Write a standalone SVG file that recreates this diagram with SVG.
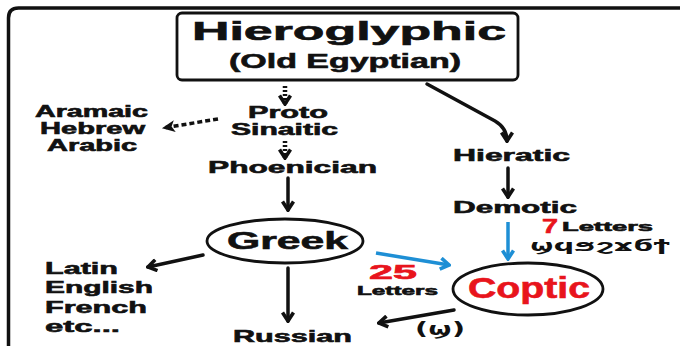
<svg xmlns="http://www.w3.org/2000/svg" width="680" height="346" viewBox="0 0 680 346">
<style>
  .t{font-family:"Liberation Sans",Arial,sans-serif;font-weight:bold;fill:#111;stroke:#111;stroke-width:0.6}
  .red{fill:#e8141c;stroke:#e8141c}
  .cop{font-family:"DejaVu Sans","Noto Sans",sans-serif;font-weight:bold;fill:#111}
  .ln{stroke:#111;stroke-width:3.5;fill:none;stroke-linecap:round}
  .blue{stroke:#1e8fd5;stroke-width:3.5;fill:none}
  .node{fill:#fff;stroke:#111;stroke-width:2.8}
</style>
<defs>
  <marker id="ah" viewBox="0 0 12 14" refX="10" refY="7" markerWidth="12" markerHeight="14" markerUnits="userSpaceOnUse" orient="auto">
    <path d="M1.5,1.5 L10,7 L1.5,12.5" fill="none" stroke="#111" stroke-width="3.6" stroke-linejoin="miter"/>
  </marker>
  <marker id="ahb" viewBox="0 0 12 14" refX="10" refY="7" markerWidth="12" markerHeight="14" markerUnits="userSpaceOnUse" orient="auto">
    <path d="M1.5,1.5 L10,7 L1.5,12.5" fill="none" stroke="#1e8fd5" stroke-width="3.6"/>
  </marker>
  <marker id="ahf" viewBox="0 0 12 12" refX="11" refY="6" markerWidth="13" markerHeight="13" markerUnits="userSpaceOnUse" orient="auto">
    <path d="M0,0.5 L12,6 L0,11.5 L3,6 Z" fill="#111"/>
  </marker>
</defs>
<rect width="680" height="346" fill="#fff"/>
<path d="M8.5,346 L8.5,18 Q8.5,8 18.5,8 L680,8" fill="none" stroke="#111" stroke-width="3.5"/>

<g id="connectors">
  <line x1="285" y1="86" x2="285" y2="104" stroke="#111" stroke-width="4.5" stroke-dasharray="2,2" marker-end="url(#ah)"/>
  <line x1="285" y1="141" x2="285" y2="158" stroke="#111" stroke-width="4.5" stroke-dasharray="2,2" marker-end="url(#ah)"/>
  <line x1="218" y1="119" x2="163" y2="128" stroke="#111" stroke-width="3.5" stroke-dasharray="5,3" marker-end="url(#ahf)"/>
  <line class="ln" x1="288" y1="178" x2="288" y2="210" marker-end="url(#ah)"/>
  <path class="ln" d="M427,84 L495,121 Q507,128 507,141" marker-end="url(#ah)"/>
  <line class="ln" x1="508" y1="168" x2="508" y2="197" marker-end="url(#ah)"/>
  <line class="blue" x1="508" y1="222" x2="508" y2="259" marker-end="url(#ahb)"/>
  <line class="blue" x1="376" y1="253" x2="449" y2="265" marker-end="url(#ahb)"/>
  <line class="ln" x1="203" y1="255" x2="148" y2="267" marker-end="url(#ah)"/>
  <line class="ln" x1="288" y1="268" x2="288" y2="321" marker-end="url(#ah)"/>
  <line class="ln" x1="454" y1="310" x2="379" y2="323" marker-end="url(#ah)"/>
</g>

<g id="hieroglyphic">
  <rect class="node" x="177" y="13" width="341" height="67" rx="5"/>
  <text class="t" x="192" y="40" font-size="26" textLength="314" lengthAdjust="spacingAndGlyphs">Hieroglyphic</text>
  <text class="t" x="229" y="68" font-size="20" textLength="232" lengthAdjust="spacingAndGlyphs">(Old Egyptian)</text>
</g>
<g id="semitic">
  <text class="t" x="35" y="117" font-size="16" textLength="113" lengthAdjust="spacingAndGlyphs">Aramaic</text>
  <text class="t" x="40" y="134" font-size="16" textLength="105" lengthAdjust="spacingAndGlyphs">Hebrew</text>
  <text class="t" x="47" y="151" font-size="16" textLength="90" lengthAdjust="spacingAndGlyphs">Arabic</text>
</g>
<g id="proto">
  <text class="t" x="248" y="118" font-size="16" textLength="80" lengthAdjust="spacingAndGlyphs">Proto</text>
  <text class="t" x="231" y="135" font-size="16" textLength="107" lengthAdjust="spacingAndGlyphs">Sinaitic</text>
</g>
<g id="phoenician">
  <text class="t" x="208" y="173" font-size="17" textLength="169" lengthAdjust="spacingAndGlyphs">Phoenician</text>
</g>
<g id="greek">
  <ellipse class="node" cx="285" cy="241" rx="78" ry="22"/>
  <text class="t" x="227" y="249" font-size="24" textLength="121" lengthAdjust="spacingAndGlyphs">Greek</text>
</g>
<g id="latin">
  <text class="t" x="45" y="274" font-size="17" textLength="73" lengthAdjust="spacingAndGlyphs">Latin</text>
  <text class="t" x="45" y="293" font-size="17" textLength="108" lengthAdjust="spacingAndGlyphs">English</text>
  <text class="t" x="45" y="313" font-size="17" textLength="102" lengthAdjust="spacingAndGlyphs">French</text>
  <text class="t" x="45" y="332" font-size="17" textLength="75" lengthAdjust="spacingAndGlyphs">etc...</text>
</g>
<g id="russian">
  <text class="t" x="233" y="342" font-size="17" textLength="119" lengthAdjust="spacingAndGlyphs">Russian</text>
</g>
<g id="hieratic">
  <text class="t" x="453" y="161" font-size="17" textLength="117" lengthAdjust="spacingAndGlyphs">Hieratic</text>
</g>
<g id="demotic">
  <text class="t" x="453" y="213" font-size="17" textLength="124" lengthAdjust="spacingAndGlyphs">Demotic</text>
</g>
<g id="label-7">
  <text class="t red" x="542" y="233" font-size="20" textLength="16" lengthAdjust="spacingAndGlyphs">7</text>
  <text class="t" x="562" y="231" font-size="13" textLength="91" lengthAdjust="spacingAndGlyphs">Letters</text>
  <text class="cop" x="530" y="251" font-size="15" textLength="140" lengthAdjust="spacingAndGlyphs">ϣϥϧϩϫϭϯ</text>
</g>
<g id="label-25">
  <text class="t red" x="369" y="279" font-size="20" textLength="48" lengthAdjust="spacingAndGlyphs">25</text>
  <text class="t" x="357" y="295" font-size="13" textLength="81" lengthAdjust="spacingAndGlyphs">Letters</text>
</g>
<g id="coptic">
  <ellipse class="node" cx="528" cy="289" rx="75" ry="26"/>
  <text class="t red" x="468" y="298" font-size="29" textLength="122" lengthAdjust="spacingAndGlyphs">Coptic</text>
</g>
<g id="shai">
  <text class="cop" x="415" y="335" font-size="17" textLength="50" lengthAdjust="spacingAndGlyphs">(ϣ)</text>
</g>
</svg>
